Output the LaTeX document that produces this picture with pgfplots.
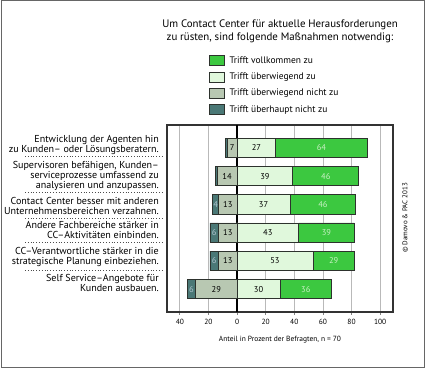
\documentclass[border=0pt]{standalone}
\usepackage{pgfplots}
\pgfplotsset{compat=1.18}
\usepackage{fontspec}
\setmainfont{PT Sans}
\definecolor{cFull}{RGB}{60,200,64}
\definecolor{cMost}{RGB}{224,248,220}
\definecolor{cMostNot}{RGB}{184,200,178}
\definecolor{cNot}{RGB}{74,120,118}
\definecolor{cEdge}{RGB}{45,50,45}
\definecolor{cGrid}{RGB}{185,185,185}
\begin{document}
\begin{tikzpicture}[x=1bp,y=1bp]
\useasboundingbox (0,0) rectangle (425,368);
\draw[gray!80!black, line width=1bp] (1,1) rectangle (424,367);
\node[align=center, font=\fontsize{10.9}{13}\selectfont] at (280,336.5) {Um Contact Center für aktuelle Herausforderungen\\zu rüsten, sind folgende Maßnahmen notwendig:};
\node[rotate=90, font=\fontsize{7}{8}\selectfont] at (405,150) {© Damovo \& PAC 2013};
% dotted separators between the category labels
\foreach \yy in {211.3,175.3,149.7,125.7,97.3} {
  \draw[dotted, black!70, line width=0.8bp] (25,\yy) -- (162,\yy);
}
\begin{axis}[
  at={(167bp,56bp)}, anchor=south west, scale only axis,
  width=226bp, height=187bp,
  xbar stacked, bar width=19.3bp,
  xmin=-49, xmax=109, ymin=-0.81, ymax=5.81,
  xtick={-40,-20,0,20,40,60,80,100},
  xticklabels={40,20,0,20,40,60,80,100},
  /pgf/number format/assume math mode=true,
  xtick pos=bottom, tick align=outside, major tick length=3bp,
  x tick style={cGrid!70!black, line width=0.8bp},
  xticklabel style={font=\fontsize{7.5}{9}\selectfont, inner sep=3.5bp},
  ytick={0,1,2,3,4,5},
  yticklabels={{Self Service–Angebote für\\Kunden ausbauen.},
    {CC–Verantwortliche stärker in die\\strategische Planung einbeziehen.},
    {Andere Fachbereiche stärker in\\CC–Aktivitäten einbinden.},
    {Contact Center besser mit anderen\\Unternehmensbereichen verzahnen.},
    {Supervisoren befähigen, Kunden–\\serviceprozesse umfassend zu\\analysieren und anzupassen.},
    {Entwicklung der Agenten hin\\zu Kunden– oder Lösungsberatern.}},
  y tick style={draw=none},
  yticklabel style={align=right, font=\fontsize{10.1}{10.2}\selectfont, inner sep=0pt, xshift=-5bp,
    yshift={(\ticknum==0)*6.3+(\ticknum==1)*4.3+(\ticknum==2)*2.6-(\ticknum==3)*1.7+(\ticknum==5)*2.5}},
  xmajorgrids, grid style={cGrid, line width=0.8bp},
  axis line style={black!80, line width=1.1bp},
  xlabel={Anteil in Prozent der Befragten, n = 70},
  every axis x label/.style={at={(axis description cs:0.5,0)}, anchor=center, yshift=-28bp, font=\fontsize{7.5}{9}\selectfont},
  clip=false,
]
% left side (negative), stacked outward from 0
\addplot[fill=cMostNot, draw=cEdge, line width=0.8bp] coordinates {(-29,0) (-13,1) (-13,2) (-13,3) (-14,4) (-7,5)};
\addplot[fill=cNot, draw=cEdge, line width=0.8bp] coordinates {(-6,0) (-6,1) (-6,2) (-4,3) (-1,4) (-1,5)};
% right side (positive)
\addplot[fill=cMost, draw=cEdge, line width=0.8bp] coordinates {(30,0) (53,1) (43,2) (37,3) (39,4) (27,5)};
\addplot[fill=cFull, draw=cEdge, line width=0.8bp] coordinates {(36,0) (29,1) (39,2) (46,3) (46,4) (64,5)};
\draw[black, line width=1.4bp] (axis cs:0,-0.81) -- (axis cs:0,5.81);
\end{axis}
\begin{axis}[
  at={(167bp,56bp)}, anchor=south west, scale only axis,
  width=226bp, height=187bp, hide axis,
  xmin=-49, xmax=109, ymin=-0.81, ymax=5.81, clip=false,
  legend image code/.code={\draw[#1, draw=cEdge, line width=0.8bp] (0bp,-5bp) rectangle (15bp,5bp);},
  legend style={at={(0.186,1.374)}, anchor=north west, draw=none, fill=none, inner sep=0pt,
    row sep=5bp, column sep=3bp, nodes={inner sep=1.5bp, anchor=west},
    font=\fontsize{9.5}{11}\selectfont, legend cell align=left},
]
\addlegendimage{fill=cFull}
\addlegendentry{Trifft vollkommen zu}
\addlegendimage{fill=cMost}
\addlegendentry{Trifft überwiegend zu}
\addlegendimage{fill=cMostNot}
\addlegendentry{Trifft überwiegend nicht zu}
\addlegendimage{fill=cNot}
\addlegendentry{Trifft überhaupt nicht zu}
\addplot[draw=none, mark=none, nodes near coords, point meta=explicit symbolic,
  every node near coord/.append style={anchor=center, font=\fontsize{8.5}{10}\selectfont, text=black}]
  table[meta=l] {
x y l
-3.5 5 7
13.5 5 27
-7 4 14
19.5 4 39
-6.5 3 13
18.5 3 37
-6.5 2 13
21.5 2 43
-6.5 1 13
26.5 1 53
-14.5 0 29
15 0 30
};
\addplot[draw=none, mark=none, nodes near coords, point meta=explicit symbolic,
  every node near coord/.append style={anchor=center, font=\fontsize{8.5}{10}\selectfont, text={rgb,255:red,200;green,240;blue,195}}]
  table[meta=l] {
x y l
59 5 64
62 4 46
60 3 46
62.5 2 39
67.5 1 29
48 0 36
};
\addplot[draw=none, mark=none, nodes near coords, point meta=explicit symbolic,
  every node near coord/.append style={anchor=center, font=\fontsize{8.5}{10}\selectfont, text={rgb,255:red,175;green,195;blue,205}}]
  table[meta=l] {
x y l
-15 3 4
-16 2 6
-16 1 6
-32 0 6
};
\end{axis}
\end{tikzpicture}
\end{document}
